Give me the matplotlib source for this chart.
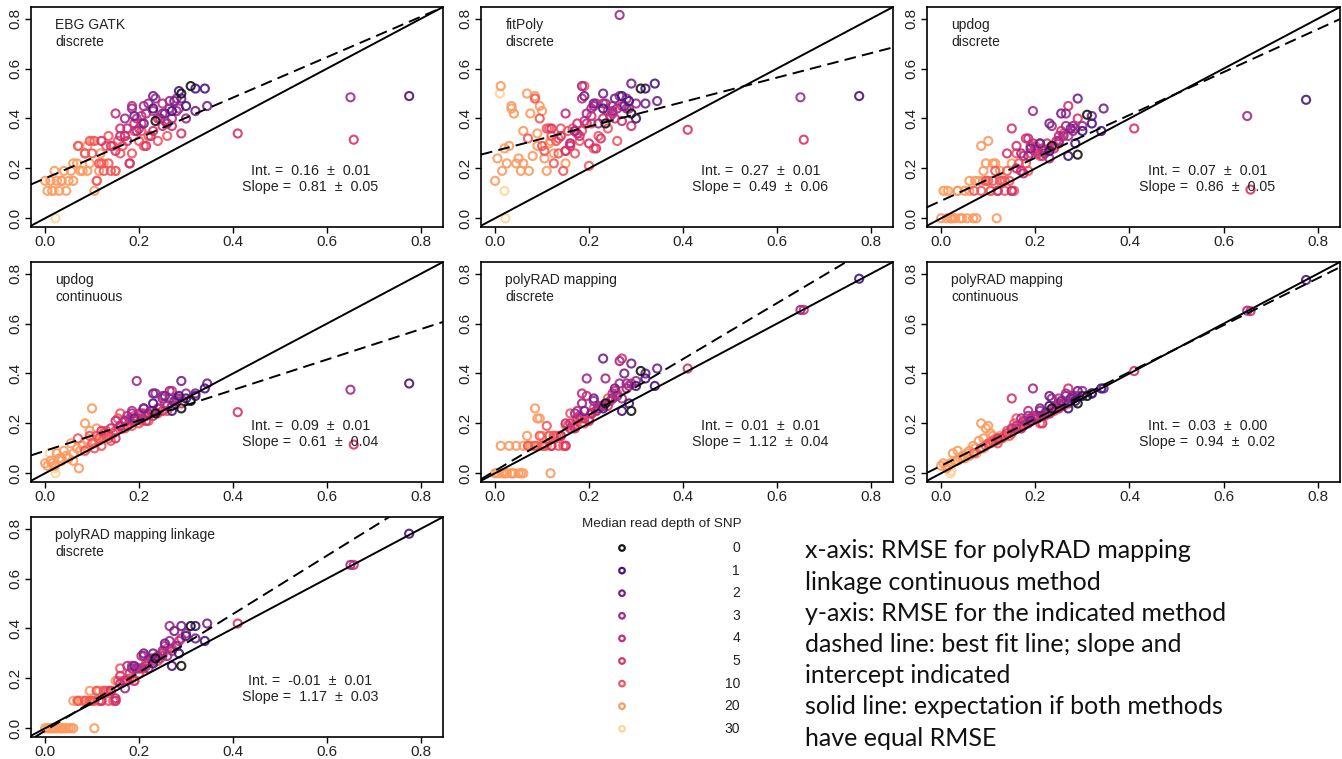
import matplotlib
matplotlib.use('Agg')
import matplotlib.pyplot as plt

plt.rcParams['font.family'] = ['Liberation Sans', 'DejaVu Sans']

# ---------------- data ----------------
depth_levels = [0, 1, 2, 3, 4, 5, 10, 20, 30]
depth_colors = ['#151515', '#48167f', '#76218c', '#a02c8c', '#c1307f',
                '#d8336b', '#f2575c', '#fb9b62', '#fdd59a']

# x: RMSE for polyRAD mapping linkage continuous (shared by all panels)
x_rmse = [
    .775, .650, .657, .410, .265,
    .010, .020, .022,
    .000, .005, .012, .015, .025, .030, .035, .040, .045, .050, .055, .060,
    .068, .072, .080, .085, .090, .095, .100, .105, .110, .118, .125, .150,
    .070, .085, .095, .105, .110, .120, .125, .130, .135, .140, .145, .150,
    .155, .160, .170, .180, .190, .200, .210, .220, .240, .260,
    .120, .140, .150, .160, .170, .180, .190, .200, .215, .225, .240, .255, .270, .290,
    .150, .160, .175, .185, .195, .205, .230, .250, .270, .285,
    .170, .185, .195, .210, .220, .235, .250, .265, .280, .300,
    .190, .210, .230, .255, .275, .290, .320, .345,
    .230, .270, .285, .300, .320, .340,
    .235, .290, .310,
    .020, .035, .060, .075, .090, .115, .100, .115, .135, .165, .185, .205,
    .175, .205, .230, .250, .215, .245, .260, .280,
]
depth = ([1, 3, 5, 5, 3] + [30] * 3 + [20] * 24 + [10] * 22 + [5] * 14
         + [4] * 10 + [3] * 10 + [2] * 8 + [1] * 6 + [0] * 3
         + [20] * 6 + [10] * 6 + [5] * 4 + [4] * 2 + [3] * 2)

y_ebg_gatk = [
    .49, .485, .315, .34, .47,
    .15, .11, .00,
    .15, .11, .15, .11, .15, .11, .15, .19, .11, .15, .19, .15,
    .22, .29, .19, .26, .19, .22, .31, .11, .15, .26, .22, .19,
    .29, .26, .31, .31, .15, .22, .19, .29, .22, .19, .29, .19,
    .31, .26, .33, .22, .35, .31, .29, .33, .31, .33,
    .31, .29, .27, .36, .33, .22, .38, .36, .29, .33, .40, .39, .37, .34,
    .42, .33, .36, .45, .40, .41, .43, .46, .40, .44,
    .40, .44, .35, .45, .46, .48, .42, .44, .43, .40,
    .41, .38, .49, .42, .47, .48, .43, .45,
    .44, .43, .51, .45, .52, .52,
    .39, .50, .53,
    .19, .15, .22, .19, .29, .19, .26, .22, .33, .29, .26, .35,
    .31, .38, .35, .37, .42, .40, .38, .48,
]
y_fitpoly = [
    .49, .485, .315, .355, .815,
    .50, .11, .00,
    .15, .24, .53, .19, .22, .29, .45, .42, .22, .24, .19, .35,
    .50, .19, .25, .49, .29, .45, .43, .24, .19, .31, .26, .22,
    .32, .48, .40, .27, .36, .33, .22, .31, .26, .36, .19, .27,
    .35, .30, .26, .31, .53, .21, .28, .33, .36, .31,
    .36, .33, .27, .29, .35, .33, .39, .30, .28, .32, .43, .40, .45, .37,
    .42, .30, .34, .48, .38, .44, .46, .42, .39, .44,
    .35, .53, .42, .45, .38, .46, .43, .49, .44, .46,
    .49, .46, .50, .48, .45, .54, .46, .47,
    .44, .49, .47, .40, .52, .54,
    .38, .42, .52,
    .28, .44, .22, .42, .34, .30, .29, .36, .32, .36, .35, .38,
    .38, .41, .40, .45, .46, .41, .44, .48,
]
y_updog_disc = [
    .475, .41, .115, .36, .37,
    .11, .00, .00,
    .00, .11, .00, .11, .00, .00, .11, .00, .00, .11, .00, .15,
    .00, .15, .15, .29, .19, .22, .31, .11, .22, .00, .19, .22,
    .11, .11, .15, .11, .15, .11, .15, .15, .11, .19, .15, .11,
    .11, .26, .19, .22, .26, .29, .25, .27, .29, .34,
    .11, .26, .36, .29, .19, .32, .29, .28, .25, .30, .28, .35, .45, .40,
    .11, .20, .18, .32, .30, .27, .24, .33, .33, .36,
    .26, .25, .43, .30, .26, .37, .31, .42, .35, .37,
    .28, .30, .38, .42, .36, .48, .41, .44,
    .27, .25, .30, .35, .38, .35,
    .29, .255, .415,
    .00, .11, .11, .00, .15, .22, .15, .19, .15, .22, .19, .28,
    .25, .26, .28, .30, .28, .31, .33, .37,
]
y_updog_cont = [
    .36, .335, .115, .245, .30,
    .08, .02, .00,
    .04, .03, .05, .04, .08, .06, .05, .09, .07, .06, .12, .08,
    .10, .02, .11, .20, .13, .17, .26, .12, .18, .15, .14, .17,
    .14, .09, .15, .10, .15, .11, .16, .17, .14, .13, .16, .17,
    .22, .24, .18, .21, .23, .20, .24, .21, .24, .25,
    .17, .18, .14, .19, .21, .22, .21, .24, .21, .25, .26, .28, .33, .28,
    .21, .19, .23, .25, .22, .24, .25, .31, .27, .30,
    .21, .24, .37, .26, .24, .32, .30, .33, .30, .32,
    .22, .26, .32, .31, .29, .37, .32, .36,
    .28, .25, .31, .30, .31, .34,
    .24, .26, .29,
    .03, .06, .05, .09, .10, .13, .12, .14, .15, .18, .19, .21,
    .19, .22, .23, .25, .23, .26, .27, .29,
]
y_polyrad_disc = [
    .78, .655, .655, .42, .36,
    .00, .00, .00,
    .00, .00, .11, .00, .00, .11, .00, .00, .11, .00, .00, .11,
    .15, .11, .11, .26, .22, .22, .15, .11, .11, .00, .15, .19,
    .11, .11, .15, .11, .19, .11, .15, .15, .11, .15, .11, .11,
    .19, .24, .19, .22, .20, .22, .26, .27, .30, .32,
    .11, .15, .11, .20, .18, .23, .22, .21, .25, .27, .27, .33, .46, .36,
    .20, .18, .25, .32, .31, .24, .27, .32, .30, .35,
    .24, .28, .38, .29, .26, .38, .30, .45, .36, .37,
    .25, .30, .46, .34, .40, .44, .40, .42,
    .26, .25, .28, .35, .38, .35,
    .28, .25, .41,
    .00, .00, .00, .11, .11, .15, .11, .15, .15, .19, .22, .24,
    .22, .24, .27, .30, .25, .29, .31, .34,
]
y_polyrad_cont = [
    .775, .652, .65, .41, .31,
    .03, .00, .01,
    .03, .04, .02, .03, .08, .05, .09, .06, .07, .06, .08, .09,
    .11, .10, .13, .20, .14, .18, .19, .16, .15, .13, .15, .17,
    .08, .10, .11, .12, .13, .12, .14, .14, .15, .17, .15, .16,
    .20, .22, .18, .20, .21, .22, .20, .23, .25, .27,
    .14, .16, .30, .19, .18, .21, .22, .23, .20, .24, .26, .28, .34, .31,
    .18, .18, .21, .25, .23, .23, .24, .30, .28, .31,
    .22, .23, .34, .25, .24, .30, .28, .32, .31, .33,
    .21, .26, .31, .29, .30, .33, .32, .34,
    .27, .26, .29, .31, .32, .34,
    .26, .28, .31,
    .04, .05, .07, .08, .10, .14, .12, .13, .15, .18, .20, .22,
    .19, .22, .24, .26, .23, .26, .28, .30,
]
y_polyrad_link_disc = [
    .78, .655, .655, .42, .35,
    .00, .00, .00,
    .00, .00, .00, .00, .00, .00, .00, .00, .00, .00, .00, .11,
    .11, .11, .11, .11, .11, .15, .11, .00, .15, .11, .15, .19,
    .11, .11, .11, .11, .15, .11, .15, .15, .11, .15, .11, .11,
    .19, .24, .19, .20, .19, .22, .24, .27, .27, .32,
    .11, .15, .11, .21, .19, .22, .19, .24, .26, .28, .29, .33, .32, .36,
    .12, .18, .25, .25, .24, .29, .28, .30, .31, .35,
    .16, .24, .24, .29, .24, .28, .31, .41, .33, .38,
    .25, .30, .30, .34, .39, .41, .36, .42,
    .26, .25, .30, .37, .41, .35,
    .28, .25, .41,
    .00, .00, .00, .11, .11, .15, .11, .11, .15, .19, .20, .24,
    .19, .24, .27, .29, .25, .28, .29, .33,
]

panel_names = [("EBG GATK", "discrete"), ("fitPoly", "discrete"), ("updog", "discrete"),
               ("updog", "continuous"), ("polyRAD mapping", "discrete"),
               ("polyRAD mapping", "continuous"), ("polyRAD mapping linkage", "discrete")]
panel_y = [y_ebg_gatk, y_fitpoly, y_updog_disc, y_updog_cont, y_polyrad_disc,
           y_polyrad_cont, y_polyrad_link_disc]
intercepts = [0.16, 0.27, 0.07, 0.09, 0.01, 0.03, -0.01]
int_errs = [0.01, 0.01, 0.01, 0.01, 0.01, 0.00, 0.01]
slopes = [0.81, 0.49, 0.86, 0.61, 1.12, 0.94, 1.17]
slope_errs = [0.05, 0.06, 0.05, 0.04, 0.04, 0.02, 0.03]
tick_vals = [0.0, 0.2, 0.4, 0.6, 0.8]
tick_labels = ["0.0", "0.2", "0.4", "0.6", "0.8"]

for arr in panel_y:
    assert len(arr) == len(x_rmse) == len(depth), (len(arr), len(x_rmse), len(depth))

note_lines = ["x-axis: RMSE for polyRAD mapping",
              "linkage continuous method",
              "y-axis: RMSE for the indicated method",
              "dashed line: best fit line; slope and",
              "intercept indicated",
              "solid line: expectation if both methods",
              "have equal RMSE"]

# ---------------- figure ----------------
W, H = 1342, 759
fig = plt.figure(figsize=(W / 100, H / 100), dpi=100)

def px_rect(left, top, right, bottom):
    return [left / W, 1 - bottom / H, (right - left) / W, (bottom - top) / H]

rects = [px_rect(31, 7, 443, 227), px_rect(481, 7, 893, 227), px_rect(927, 7, 1340, 227),
         px_rect(31, 262, 443, 482), px_rect(481, 262, 893, 482), px_rect(927, 262, 1340, 482),
         px_rect(31, 517, 443, 737)]

color_of = dict(zip(depth_levels, depth_colors))
order = sorted(range(len(x_rmse)), key=lambda k: -depth[k])

for i, rect in enumerate(rects):
    ax = fig.add_axes(rect)
    ys = panel_y[i]
    ax.scatter([x_rmse[k] for k in order], [ys[k] for k in order], s=34,
               facecolors='none', edgecolors=[color_of[depth[k]] for k in order],
               linewidths=1.5, alpha=0.9, zorder=2)
    ax.axline((0, 0), slope=1, color='black', lw=1.4, zorder=3)
    ax.axline((0, intercepts[i]), slope=slopes[i], color='black', lw=1.4,
              dashes=(6, 3.2), zorder=3)
    ax.set_xlim(-0.03, 0.847)
    ax.set_ylim(-0.035, 0.847)
    ax.set_xticks(tick_vals, tick_labels)
    ax.set_yticks(tick_vals, tick_labels)
    ax.tick_params(axis='both', direction='out', length=4.5, width=1.0,
                   labelsize=11, pad=1.5, colors='black', labelcolor='#222222')
    for lab in ax.get_yticklabels():
        lab.set_rotation(90)
        lab.set_va('center')
    for s in ax.spines.values():
        s.set_linewidth(1.2)
    ax.text(0.022, 0.775, panel_names[i][0], fontsize=10, ha='left', va='center',
            color='#222222')
    ax.text(0.022, 0.705, panel_names[i][1], fontsize=10, ha='left', va='center',
            color='#222222')
    ax.text(0.565, 0.19, f"Int. =  {intercepts[i]:.2f}  \u00b1  {int_errs[i]:.2f}",
            fontsize=10.3, ha='center', va='center', color='#222222')
    ax.text(0.565, 0.125, f"Slope =  {slopes[i]:.2f}  \u00b1  {slope_errs[i]:.2f}",
            fontsize=10.3, ha='center', va='center', color='#222222')

# legend and notes in pixel coordinates
lax = fig.add_axes([0, 0, 1, 1])
lax.set_xlim(0, W)
lax.set_ylim(H, 0)
lax.axis('off')
lax.text(662, 524, "Median read depth of SNP", fontsize=9.7, ha='center', va='center',
         color='#222222')
for j, lvl in enumerate(depth_levels):
    yy = 548 + j * 22.6
    lax.scatter([622], [yy], s=16, facecolors='none', edgecolors=[depth_colors[j]],
                linewidths=1.6)
    lax.text(740, yy, str(lvl), fontsize=10, ha='right', va='center', color='#222222')

for j, line in enumerate(note_lines):
    lax.text(805, 551 + j * 31.2, line, fontsize=18, ha='left', va='center',
             family=['Lato', 'DejaVu Sans'], color='#111111')

fig.savefig('out.png', dpi=100)
